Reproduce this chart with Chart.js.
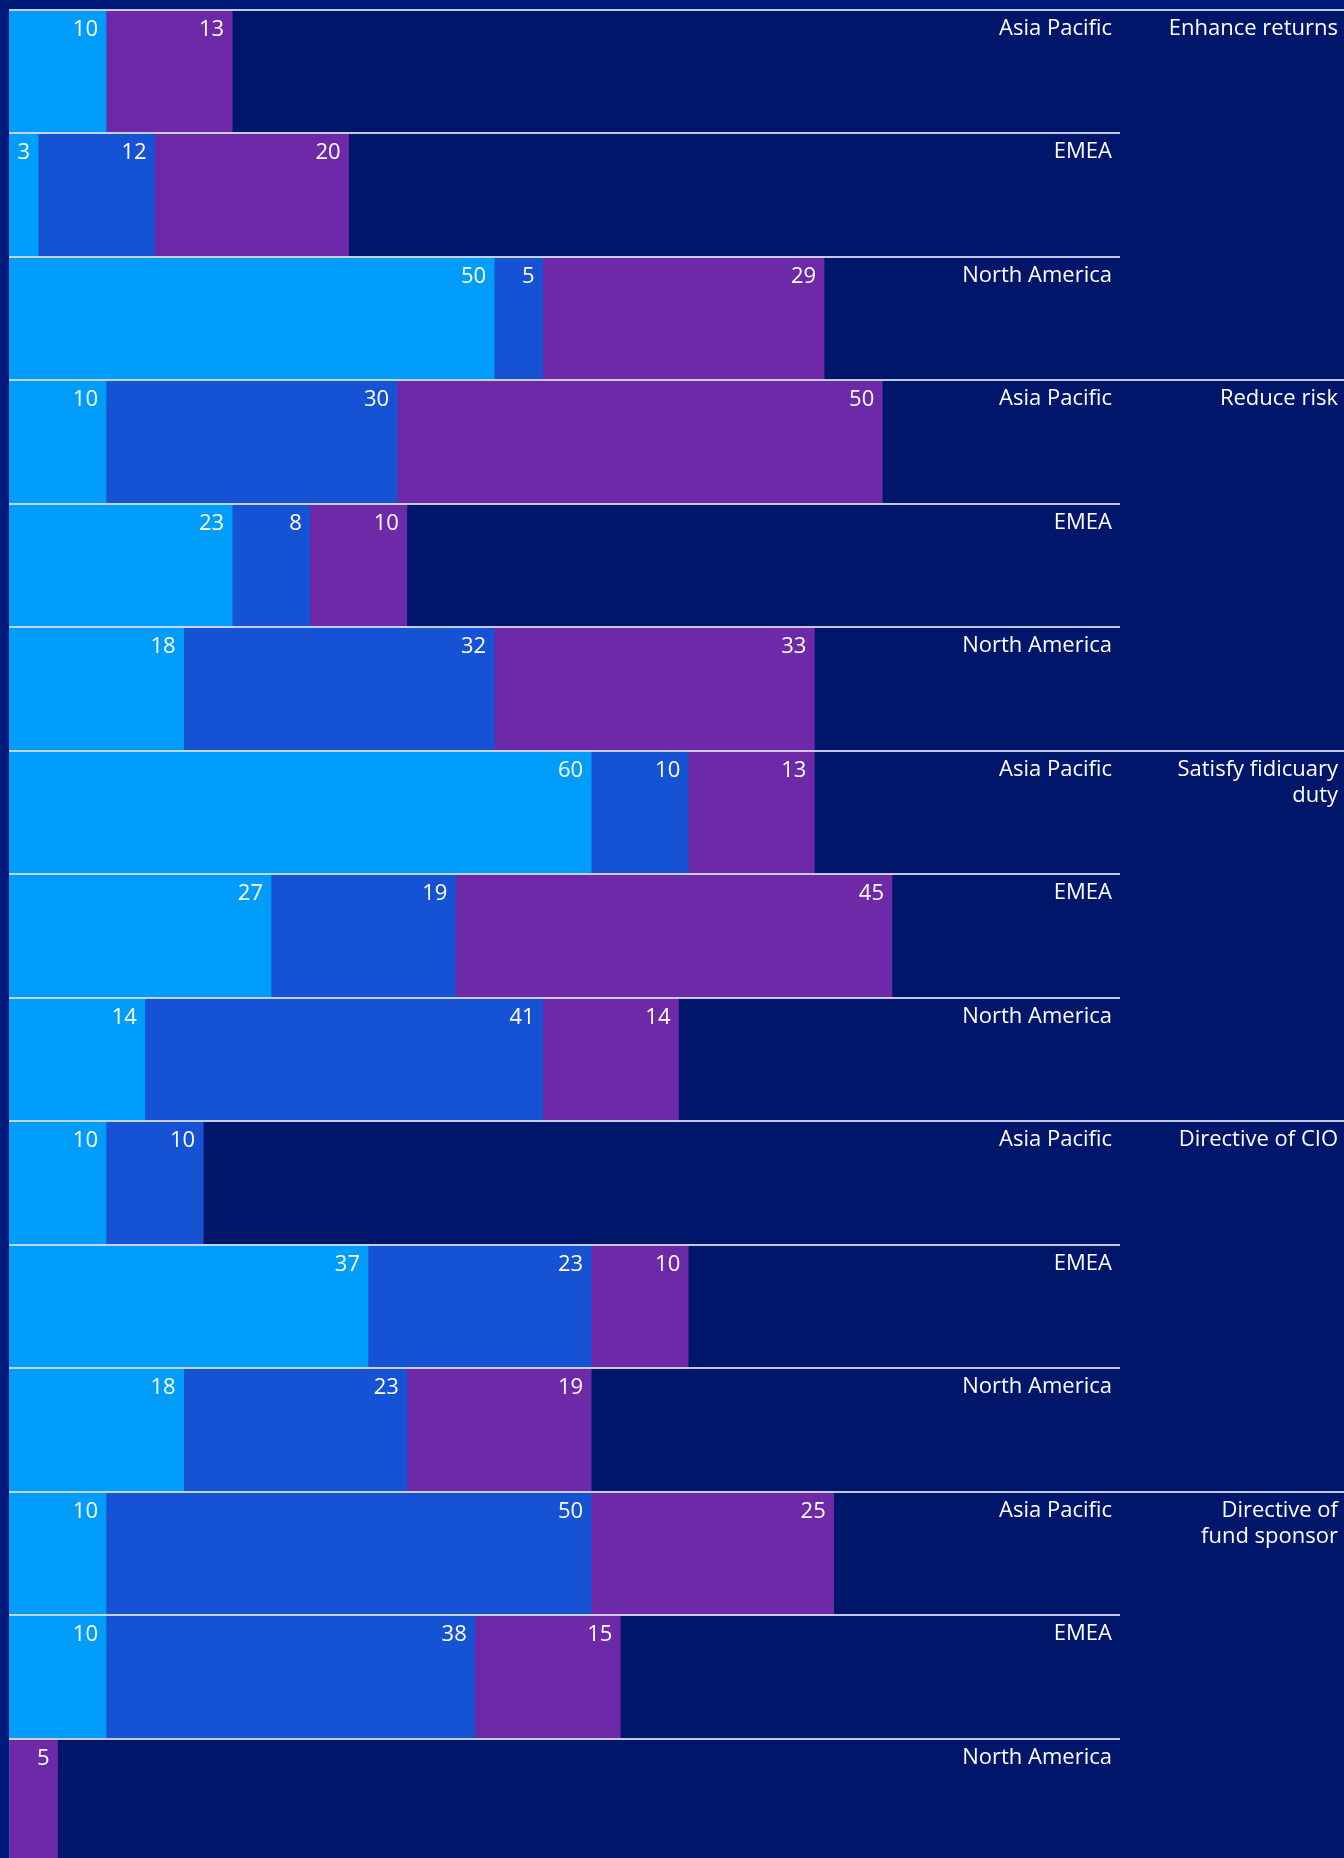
<!DOCTYPE html>
<html>
<head>
<meta charset="utf-8">
<script src="https://cdn.jsdelivr.net/npm/chart.js@4.4.1/dist/chart.umd.min.js"></script>
<style>
  html, body { margin: 0; padding: 0; background: #00166b; }
  #wrap { position: relative; width: 1344px; height: 1858px; overflow: hidden; background: #00166b; }
  #chart { display: block; }
</style>
</head>
<body>
<div id="wrap"><canvas id="chart" width="1344" height="1862"></canvas></div>
<script>
// Chart data
const groups = ['Enhance returns', 'Reduce risk', 'Satisfy fidicuary duty', 'Directive of CIO', 'Directive of fund sponsor'];
const groupLines = [['Enhance returns'], ['Reduce risk'], ['Satisfy fidicuary', 'duty'], ['Directive of CIO'], ['Directive of', 'fund sponsor']];
const regions = ['Asia Pacific', 'EMEA', 'North America'];

// one entry per row, groups x regions in order
const lightBlue = [10, 3, 50, 10, 23, 18, 60, 27, 14, 10, 37, 18, 10, 10, 0];
const midBlue   = [0, 12, 5, 30, 8, 32, 10, 19, 41, 10, 23, 23, 50, 38, 0];
const purple    = [13, 20, 29, 50, 10, 33, 13, 45, 14, 0, 10, 19, 25, 15, 5];

const rowLabels = [];
groups.forEach(g => regions.forEach(r => rowLabels.push(g + ' | ' + r)));

const FONT = '"Open Sans", sans-serif';

// Background + lines + text labels
const decorPlugin = {
    id: 'decor',
    beforeDraw(chart) {
        const ctx = chart.ctx;
        ctx.save();
        ctx.fillStyle = '#00166b';
        ctx.fillRect(0, 0, chart.width, chart.height);
        ctx.fillStyle = '#001a7c';
        ctx.fillRect(0, 0, chart.chartArea.left, chart.height);
        ctx.fillRect(0, 0, chart.width, chart.chartArea.top);
        ctx.restore();
    },
    afterDatasetsDraw(chart) {
        const ctx = chart.ctx;
        const area = chart.chartArea;
        const yScale = chart.scales.y;
        const rowH = (area.bottom - area.top) / rowLabels.length;
        ctx.save();

        // value labels
        ctx.fillStyle = '#ffffff';
        ctx.font = '22px ' + FONT;
        ctx.textAlign = 'right';
        ctx.textBaseline = 'alphabetic';
        chart.data.datasets.forEach((ds, di) => {
            chart.getDatasetMeta(di).data.forEach((bar, i) => {
                const v = ds.data[i];
                if (!v) return;
                const top = bar.y - bar.height / 2;
                ctx.fillText(String(v), bar.x - 8, top + 26);
            });
        });

        // separator lines
        ctx.strokeStyle = 'rgba(215, 220, 240, 0.9)';
        ctx.lineWidth = 2;
        for (let i = 0; i < rowLabels.length; i++) {
            const y = Math.round(yScale.getPixelForValue(i) - rowH / 2);
            ctx.beginPath();
            ctx.moveTo(area.left, y);
            ctx.lineTo(i % 3 === 0 ? chart.width : area.right, y);
            ctx.stroke();
        }

        // region labels
        ctx.font = '22px ' + FONT;
        ctx.fillStyle = '#ffffff';
        ctx.textAlign = 'right';
        for (let i = 0; i < rowLabels.length; i++) {
            const top = yScale.getPixelForValue(i) - rowH / 2;
            ctx.fillText(regions[i % 3], area.right - 8, top + 25);
        }

        // group labels
        groupLines.forEach((lines, g) => {
            const top = yScale.getPixelForValue(g * 3) - rowH / 2;
            lines.forEach((ln, k) => {
                ctx.fillText(ln, chart.width - 6, top + 25 + k * 26);
            });
        });
        ctx.restore();
    }
};

const ctx = document.getElementById('chart').getContext('2d');
new Chart(ctx, {
    type: 'bar',
    data: {
        labels: rowLabels,
        datasets: [
            { label: 'Light', data: lightBlue, backgroundColor: '#009cfa' },
            { label: 'Mid', data: midBlue, backgroundColor: '#1652d4' },
            { label: 'Purple', data: purple, backgroundColor: '#6d29a7' }
        ]
    },
    options: {
        indexAxis: 'y',
        responsive: false,
        animation: false,
        layout: { padding: { left: 9, top: 10, right: 224, bottom: 0 } },
        datasets: { bar: { categoryPercentage: 1, barPercentage: 1, borderWidth: 0 } },
        scales: {
            x: { stacked: true, display: false, min: 0, max: 114.5 },
            y: { stacked: true, display: false }
        },
        plugins: {
            legend: { display: false },
            tooltip: { enabled: false }
        }
    },
    plugins: [decorPlugin]
});
</script>
</body>
</html>
